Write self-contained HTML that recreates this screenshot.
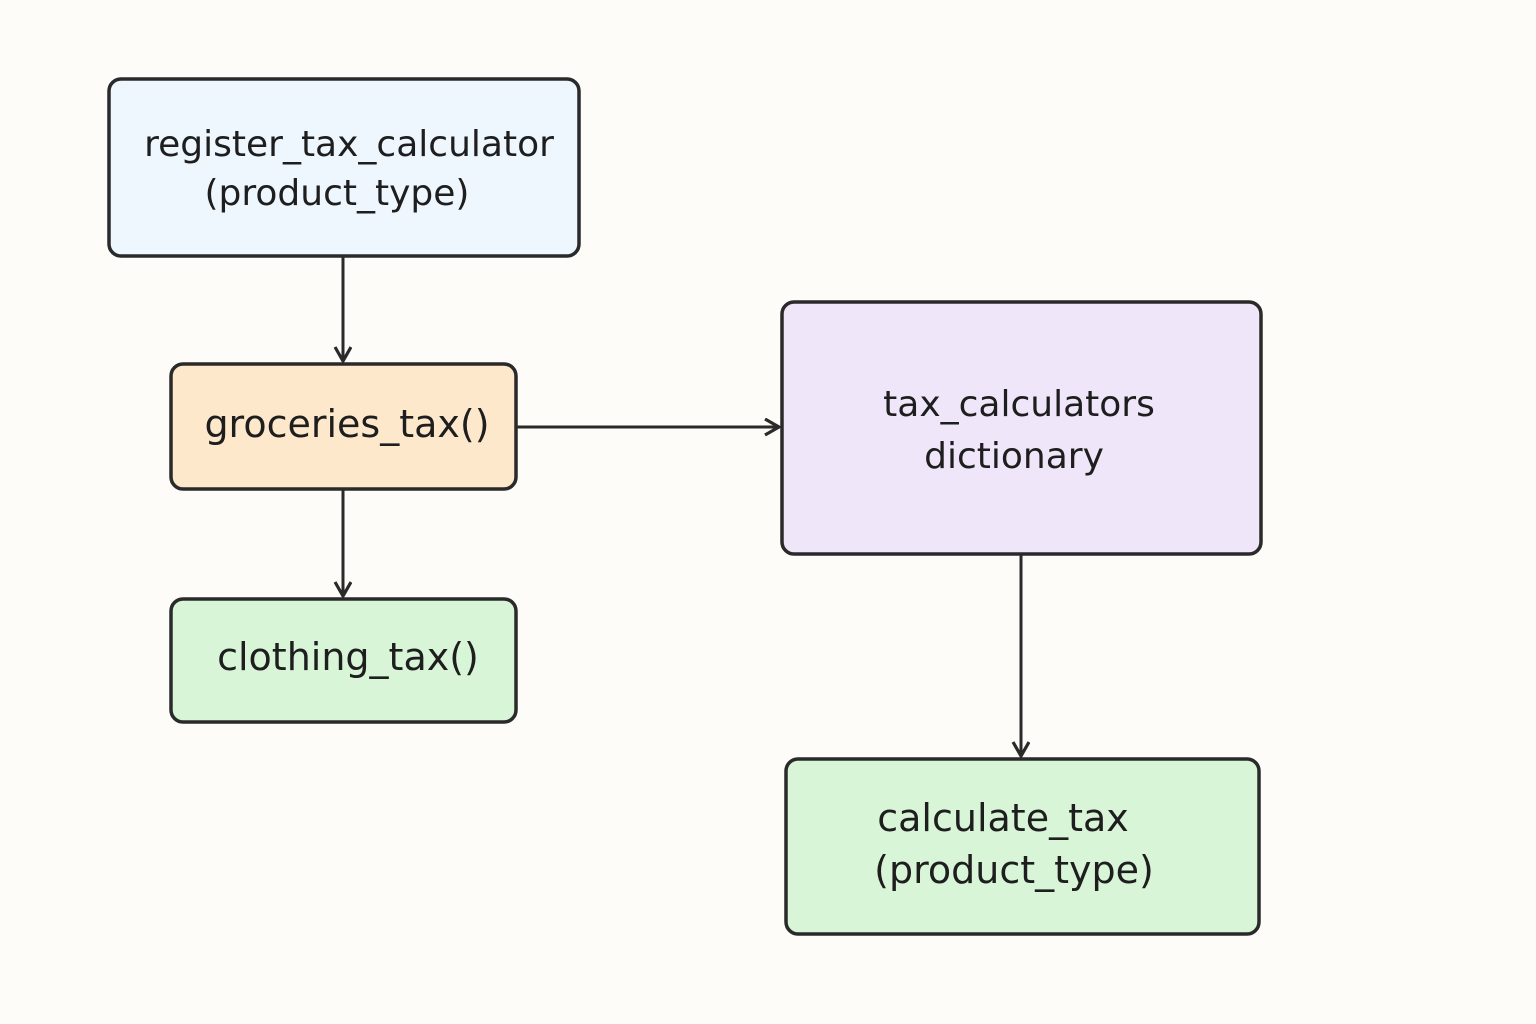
<!DOCTYPE html>
<html><head><meta charset="utf-8"><style>
body{margin:0;background:#fdfcf9;}
svg{display:block}
text{font-family:"DejaVu Sans","Liberation Sans",sans-serif;font-size:36px;fill:#1e1e1e;text-anchor:middle}
text.b{font-size:38px}
</style></head><body>
<svg width="1536" height="1024" viewBox="0 0 1536 1024">
<defs><marker id="a" markerWidth="20" markerHeight="20" refX="15" refY="9" orient="auto" markerUnits="userSpaceOnUse">
<path d="M1,1 L15,9 L1,17" fill="none" stroke="#2a2a2a" stroke-width="3.2"/></marker></defs>
<g stroke="#2a2a2a" stroke-width="3.5">
<rect x="109" y="79" width="470" height="177" rx="12" fill="#eef7fe"/>
<rect x="171" y="364" width="345" height="125" rx="12" fill="#fde8cc"/>
<rect x="171" y="599" width="345" height="123" rx="12" fill="#d8f5d8"/>
<rect x="782" y="302" width="479" height="252" rx="12" fill="#efe6f9"/>
<rect x="786" y="759" width="473" height="175" rx="12" fill="#d8f5d8"/>
</g>
<g stroke="#2a2a2a" stroke-width="3" fill="none">
<line x1="343" y1="256" x2="343" y2="361" marker-end="url(#a)"/>
<line x1="343" y1="489" x2="343" y2="596" marker-end="url(#a)"/>
<line x1="516" y1="427" x2="779" y2="427" marker-end="url(#a)"/>
<line x1="1021" y1="554" x2="1021" y2="756" marker-end="url(#a)"/>
</g>
<text x="349" y="156">register_tax_calculator</text>
<text x="337" y="205">(product_type)</text>
<text class="b" x="347" y="437">groceries_tax()</text>
<text class="b" x="348" y="670">clothing_tax()</text>
<text x="1019" y="416">tax_calculators</text>
<text x="1014" y="468">dictionary</text>
<text class="b" x="1003" y="831">calculate_tax</text>
<text class="b" x="1014" y="883">(product_type)</text>
</svg>
</body></html>
